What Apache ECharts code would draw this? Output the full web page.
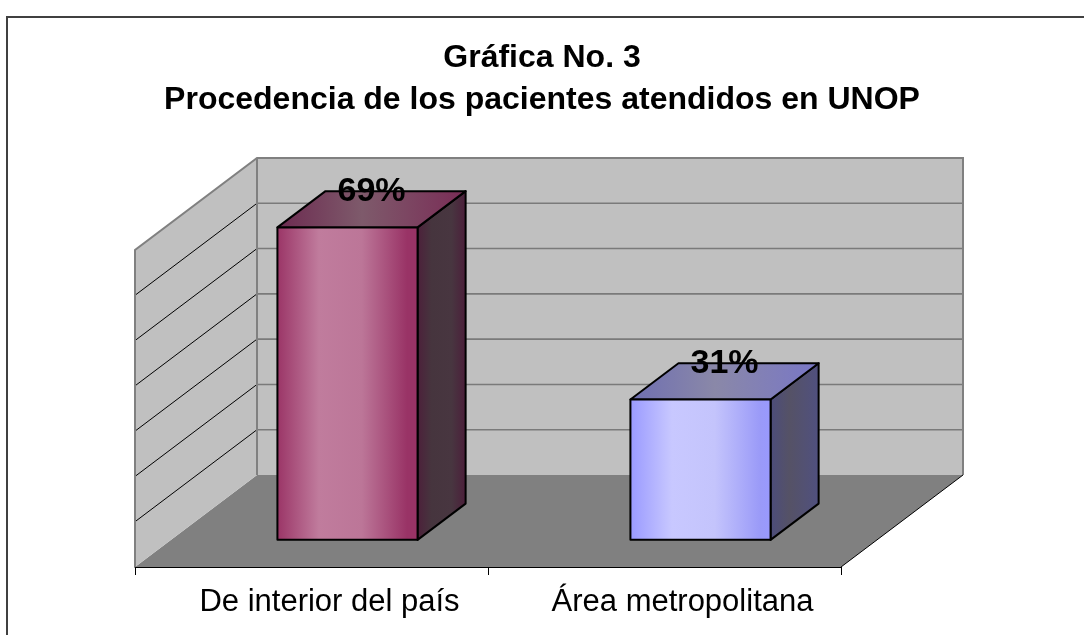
<!DOCTYPE html>
<html><head><meta charset="utf-8">
<script src="https://cdn.jsdelivr.net/npm/echarts@6/dist/echarts.min.js"></script>
<style>html,body{margin:0;padding:0;background:#fff}#c{width:1084px;height:635px}</style>
</head><body><div id="c"></div>
<script>
// ---- data ----
const categories = ['De interior del país', 'Área metropolitana'];
const values = [69, 31];
const valueLabels = ['69%', '31%'];
const axisMin = 0;
const axisMax = 70;
const axisStep = 10;
const titleLines = ['Gráfica No. 3', 'Procedencia de los pacientes atendidos en UNOP'];

// ---- styles / projection ----
const DEPTH = [122, -92];       // full depth vector of floor
const FRONT_T = 0.295;          // bar front plane (fraction of depth)
const BACK_T = 0.689;           // bar back plane
const BAR_FRAC = 0.397;         // bar width as fraction of category band
const FONT = 'Arial, "Liberation Sans", Helvetica, sans-serif';
const barStyles = [
  {
    front: [[0,'#9a3466'],[0.3,'#c07c9d'],[0.6,'#bc7698'],[0.92,'#993366'],[1,'#993366']],
    top:   [[0,'#6c2a50'],[0.45,'#7e5a6b'],[0.95,'#7a3058'],[1,'#7a3058']],
    side:  [[0,'#4d1f3a'],[0.3,'#46353e'],[0.7,'#483640'],[1,'#4c1d3a']]
  },
  {
    front: [[0,'#9999ff'],[0.3,'#c8c8ff'],[0.6,'#c4c4fc'],[0.92,'#9a9af8'],[1,'#9999ff']],
    top:   [[0,'#6e6eb2'],[0.45,'#8a88a8'],[0.95,'#7a78c4'],[1,'#7a78c4']],
    side:  [[0,'#4c4c7c'],[0.4,'#555266'],[1,'#505080']]
  }
];
function grad(stops) {
  return new echarts.graphic.LinearGradient(0, 0, 1, 0,
    stops.map(s => ({offset: s[0], color: s[1]})));
}

function renderWalls(params, api) {
  const cs = params.coordSys;
  const x0 = cs.x, x1 = cs.x + cs.width;
  const yb = api.coord([0, axisMin])[1];
  const yt = api.coord([0, axisMax])[1];
  const dx = DEPTH[0], dy = DEPTH[1];
  const ch = [];
  ch.push({type:'polygon', shape:{points:[[x0,yb],[x1,yb],[x1+dx,yb+dy],[x0+dx,yb+dy]]},
    style:{fill:'#808080'}});
  ch.push({type:'polygon', shape:{points:[[x0,yb],[x0,yt],[x0+dx,yt+dy],[x0+dx,yb+dy]]},
    style:{fill:'#c0c0c0'}});
  ch.push({type:'rect', shape:{x:x0+dx, y:yt+dy, width:x1-x0, height:yb-yt},
    style:{fill:'#c0c0c0'}});
  for (let v = axisMin + axisStep; v < axisMax; v += axisStep) {
    const y = api.coord([0, v])[1];
    ch.push({type:'line', shape:{x1:x0+dx, y1:y+dy, x2:x1+dx, y2:y+dy},
      style:{stroke:'#7a7a7a', lineWidth:1.6}});
    ch.push({type:'line', shape:{x1:x0, y1:y, x2:x0+dx, y2:y+dy},
      style:{stroke:'#000', lineWidth:1}});
  }
  // wall borders
  ch.push({type:'polyline', shape:{points:[[x0,yb],[x0,yt],[x0+dx,yt+dy],[x1+dx,yt+dy],[x1+dx,yb+dy]]},
    style:{stroke:'#808080', lineWidth:2, fill:null}});
  ch.push({type:'line', shape:{x1:x0+dx, y1:yt+dy, x2:x0+dx, y2:yb+dy},
    style:{stroke:'#808080', lineWidth:2}});
  // floor right edge
  ch.push({type:'line', shape:{x1:x1, y1:yb, x2:x1+dx, y2:yb+dy},
    style:{stroke:'#000', lineWidth:1}});
  return {type:'group', children:ch};
}

function renderBar(params, api) {
  const i = api.value(0), v = api.value(1);
  const top = api.coord([i, v]), base = api.coord([i, axisMin]);
  const w = api.size([1, 0])[0] * BAR_FRAC;
  const fx = DEPTH[0]*FRONT_T, fy = DEPTH[1]*FRONT_T;
  const ddx = DEPTH[0]*(BACK_T-FRONT_T), ddy = DEPTH[1]*(BACK_T-FRONT_T);
  const L = top[0] - w/2 + fx, R = top[0] + w/2 + fx;
  const T = top[1] + fy, B = base[1] + fy;
  const st = barStyles[params.dataIndex];
  const edge = {stroke:'#000', lineWidth:2, lineJoin:'round'};
  return {type:'group', children:[
    {type:'polygon', shape:{points:[[R,T],[R+ddx,T+ddy],[R+ddx,B+ddy],[R,B]]},
      style:Object.assign({fill:grad(st.side)}, edge)},
    {type:'polygon', shape:{points:[[L,T],[R,T],[R+ddx,T+ddy],[L+ddx,T+ddy]]},
      style:Object.assign({fill:grad(st.top)}, edge)},
    {type:'rect', shape:{x:L, y:T, width:R-L, height:B-T},
      style:Object.assign({fill:grad(st.front)}, edge)},
    {type:'text', x:(L+R)/2 + ddx/2, y:T+ddy,
      style:{text:valueLabels[params.dataIndex], fill:'#000', font:'bold 34px ' + FONT,
        align:'center', verticalAlign:'middle'}}
  ]};
}

const chart = echarts.init(document.getElementById('c'), null, {renderer:'canvas'});
chart.setOption({
  animation:false,
  backgroundColor:'#fff',
  title:{
    text: titleLines.join('\n'), left:'center', top:37, padding:[0, 0, 0, 18],
    textStyle:{fontFamily:FONT, fontWeight:'bold', fontSize:32, lineHeight:42, color:'#000'}
  },
  graphic:[{type:'rect', shape:{x:7, y:17, width:1200, height:700},
    style:{fill:null, stroke:'#404040', lineWidth:2}, silent:true, z:100}],
  grid:{left:135, right:243, top:250, bottom:68},
  xAxis:{type:'category', data:categories, boundaryGap:true,
    axisLine:{show:true, lineStyle:{color:'#000', width:1}},
    axisTick:{show:true, length:8, lineStyle:{color:'#000'}},
    axisLabel:{fontFamily:FONT, fontSize:31, color:'#000', margin:19, lineHeight:32,
      padding:[0, 0, 0, 36]},
    splitLine:{show:false}, z:10},
  yAxis:{type:'value', min:axisMin, max:axisMax, interval:axisStep, show:false},
  series:[
    {type:'custom', renderItem:renderWalls, data:[[0, 0]], z:1, silent:true, clip:false},
    {type:'custom', renderItem:renderBar, data:values.map((v, i) => [i, v]), z:2, clip:false}
  ]
});
</script></body></html>
